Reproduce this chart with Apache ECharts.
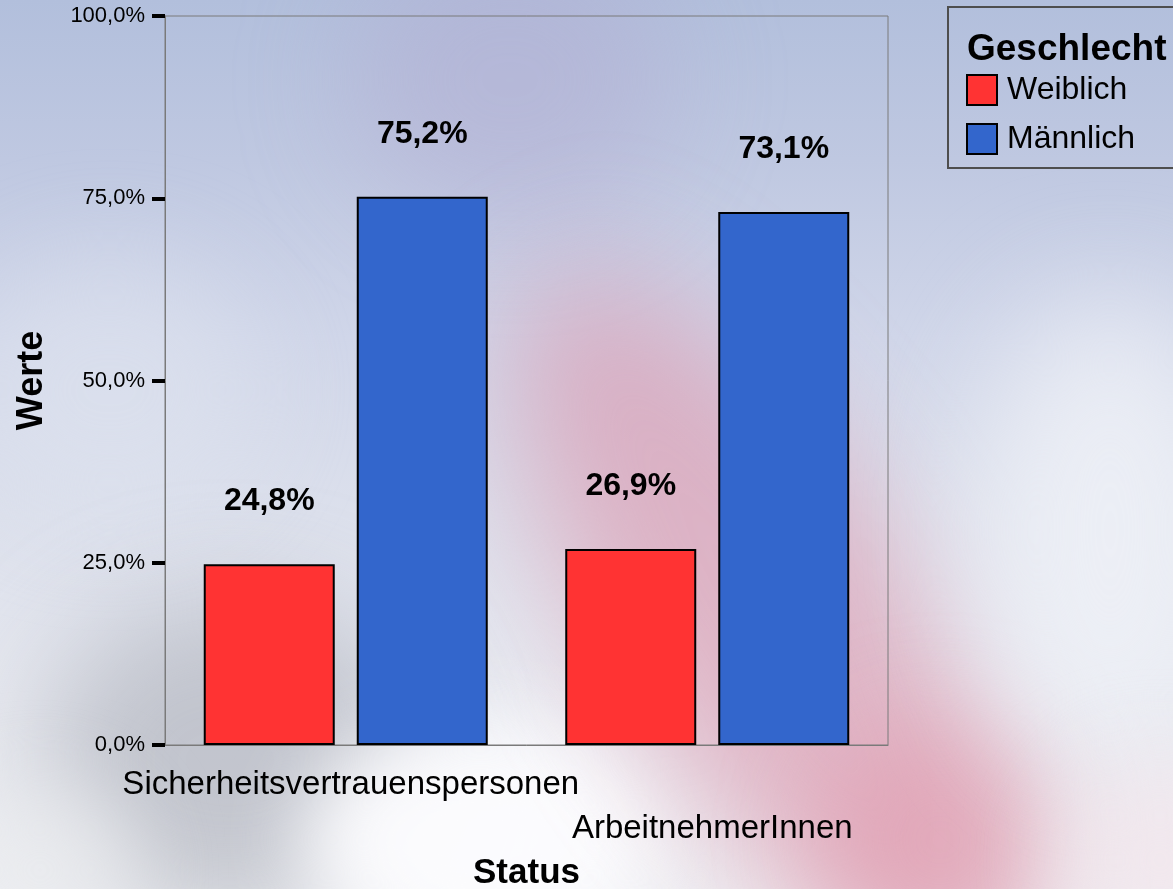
<!DOCTYPE html>
<html>
<head>
<meta charset="utf-8">
<script src="https://cdn.jsdelivr.net/npm/echarts@6/dist/echarts.min.js"></script>
<style>
  html, body { margin: 0; padding: 0; overflow: hidden; width: 1173px; height: 889px; }
  #bg {
    position: absolute; left: 0; top: 0; width: 1173px; height: 889px; overflow: hidden;
    background: linear-gradient(to bottom, #b2bfdc 0%, #bfc8e1 18%, #d0d6e9 38%, #dce0ec 58%, #e7e9f0 78%, #eeeff3 100%);
  }
  .blob { position: absolute; border-radius: 50%; }
  #chart { position: absolute; left: 0; top: 0; width: 1173px; height: 889px; }
</style>
</head>
<body>
<div id="bg">
  <div class="blob" style="left:350px;top:-60px;width:320px;height:280px;background:rgba(178,170,208,0.45);filter:blur(55px);"></div>
  <div class="blob" style="left:-40px;top:260px;width:300px;height:260px;background:rgba(222,226,238,0.6);filter:blur(50px);"></div>
  <div class="blob" style="left:40px;top:600px;width:380px;height:320px;background:rgba(162,166,176,0.55);filter:blur(55px);"></div>
  <div class="blob" style="left:-60px;top:780px;width:200px;height:180px;background:rgba(235,236,240,0.7);filter:blur(40px);"></div>
  <div class="blob" style="left:300px;top:720px;width:360px;height:240px;background:rgba(252,252,254,0.95);filter:blur(40px);"></div>
  <div class="blob" style="left:610px;top:220px;width:300px;height:800px;background:rgba(220,150,172,0.62);filter:blur(60px);transform:rotate(-32deg);"></div>
  <div class="blob" style="left:820px;top:720px;width:240px;height:240px;background:rgba(226,150,170,0.5);filter:blur(50px);"></div>
  <div class="blob" style="left:980px;top:300px;width:260px;height:460px;background:rgba(238,241,247,0.85);filter:blur(60px);"></div>
  <div class="blob" style="left:1060px;top:760px;width:200px;height:200px;background:rgba(242,230,236,0.8);filter:blur(45px);"></div>
</div>
<div id="chart"></div>
<script>
const categories = ['Sicherheitsvertrauenspersonen', 'ArbeitnehmerInnen'];
const weiblich = [24.8, 26.9];
const maennlich = [75.2, 73.1];
const seriesNames = ['Weiblich', 'Männlich'];
const legendTitle = 'Geschlecht';
const xTitle = 'Status';
const yTitle = 'Werte';

const fmtPct = v => v.toFixed(1).replace('.', ',') + '%';
const FONT = '"Liberation Sans", Arial, sans-serif';

const chart = echarts.init(document.getElementById('chart'), null, { renderer: 'canvas' });

const labelCfg = {
  show: true,
  position: 'top',
  distance: 47,
  formatter: p => fmtPct(p.value),
  fontFamily: FONT,
  fontWeight: 'bold',
  fontSize: 32,
  color: '#000'
};

chart.setOption({
  backgroundColor: 'transparent',
  animation: false,
  textStyle: { fontFamily: FONT },
  title: {
    text: legendTitle,
    left: 967,
    top: 31,
    padding: 0,
    textStyle: { fontFamily: FONT, fontWeight: 'bold', fontSize: 37, color: '#000' }
  },
  legend: {
    orient: 'vertical',
    left: 948,
    top: 7,
    padding: [67, 80, 13, 18],
    itemWidth: 30,
    itemHeight: 30,
    itemGap: 17,
    borderColor: '#4e4e4e',
    borderWidth: 2,
    backgroundColor: 'transparent',
    icon: 'rect',
    textStyle: { fontFamily: FONT, fontSize: 32, color: '#000', padding: [0, 0, 0, 5] },
    data: seriesNames
  },
  grid: {
    left: 165,
    right: 285,
    top: 16,
    bottom: 144,
    show: true,
    borderColor: '#7a7a7a',
    borderWidth: 1,
    backgroundColor: 'transparent',
    containLabel: false,
    outerBoundsMode: 'none'
  },
  xAxis: {
    type: 'category',
    data: categories,
    name: xTitle,
    nameLocation: 'middle',
    nameGap: 110,
    nameTextStyle: { fontFamily: FONT, fontWeight: 'bold', fontSize: 35, color: '#000' },
    axisLine: { lineStyle: { color: '#7a7a7a', width: 1 } },
    axisTick: { alignWithLabel: true, length: 12, lineStyle: { color: '#000', width: 4 } },
    axisLabel: {
      interval: 0,
      margin: 18,
      fontFamily: FONT,
      fontSize: 33,
      color: '#000',
      lineHeight: 44,
      padding: [0, 0, 0, 10],
      formatter: (v, i) => (i % 2 === 1 ? '\n' + v : v)
    },
    splitLine: { show: false }
  },
  yAxis: {
    type: 'value',
    min: 0,
    max: 100,
    interval: 25,
    name: yTitle,
    nameLocation: 'middle',
    nameRotate: 90,
    nameGap: 115,
    nameTextStyle: { fontFamily: FONT, fontWeight: 'bold', fontSize: 36, color: '#000' },
    axisLine: { show: true, lineStyle: { color: '#7a7a7a', width: 1 } },
    axisTick: { show: true, length: 13, lineStyle: { color: '#000', width: 4 } },
    axisLabel: {
      margin: 20,
      fontFamily: FONT,
      fontSize: 22,
      color: '#000',
      formatter: v => fmtPct(v)
    },
    splitLine: { show: false }
  },
  series: [
    {
      name: seriesNames[0],
      type: 'bar',
      data: weiblich,
      barWidth: 131,
      barGap: '16.8%',
      itemStyle: { color: '#ff3333', borderColor: '#000', borderWidth: 2 },
      label: labelCfg
    },
    {
      name: seriesNames[1],
      type: 'bar',
      data: maennlich,
      barWidth: 131,
      barGap: '16.8%',
      itemStyle: { color: '#3366cc', borderColor: '#000', borderWidth: 2 },
      label: labelCfg
    }
  ]
});
</script>
</body>
</html>
